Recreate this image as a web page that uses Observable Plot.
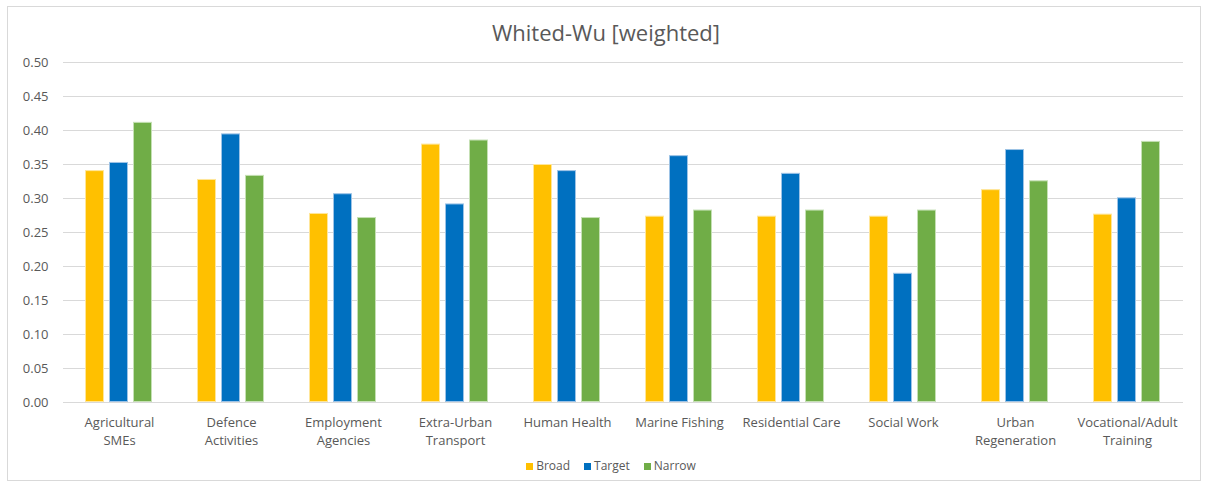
<!DOCTYPE html>
<html>
<head>
<meta charset="utf-8">
<script src="https://cdn.jsdelivr.net/npm/d3@7"></script>
<script src="https://cdn.jsdelivr.net/npm/@observablehq/plot@0.6"></script>
<style>
  html, body { margin: 0; padding: 0; background: #fff; }
  body { width: 1208px; height: 484px; position: relative; font-family: "Open Sans", Lato, sans-serif; color: #595959; overflow: hidden; }
  #frame { position: absolute; left: 7px; top: 6px; width: 1194px; height: 475px; border: 1px solid #d9d9d9; box-sizing: border-box; }
  #title { position: absolute; left: 0; width: 1212px; top: 17px; text-align: center; font-size: 22px; line-height: 30px; color: #595959; }
  #chart { position: absolute; left: 0; top: 50px; }
  #legend { position: absolute; left: 0; width: 1222px; top: 458px; display: flex; justify-content: center; font-size: 12px; line-height: 16px; color: #595959; }
  .item { display: flex; align-items: center; margin: 0 7px; }
  .sw { width: 7px; height: 7px; margin-right: 3px; }
</style>
</head>
<body>
<div id="frame"></div>
<div id="title">Whited-Wu [weighted]</div>
<div id="chart"></div>
<div id="legend"></div>
<script>
const categories = ["Agricultural SMEs", "Defence Activities", "Employment Agencies", "Extra-Urban Transport", "Human Health", "Marine Fishing", "Residential Care", "Social Work", "Urban Regeneration", "Vocational/Adult Training"];
const categoryLabels = ["Agricultural\nSMEs", "Defence\nActivities", "Employment\nAgencies", "Extra-Urban\nTransport", "Human Health", "Marine Fishing", "Residential Care", "Social Work", "Urban\nRegeneration", "Vocational/Adult\nTraining"];
const seriesNames = ["Broad", "Target", "Narrow"];
const broad  = [0.341, 0.328, 0.278, 0.380, 0.350, 0.274, 0.274, 0.274, 0.313, 0.277];
const target = [0.353, 0.395, 0.307, 0.292, 0.341, 0.363, 0.337, 0.190, 0.372, 0.301];
const narrow = [0.412, 0.334, 0.272, 0.386, 0.272, 0.283, 0.283, 0.283, 0.326, 0.384];
const yTicks = [0, 0.05, 0.10, 0.15, 0.20, 0.25, 0.30, 0.35, 0.40, 0.45, 0.50];
const colors = ["#FFC000", "#0070C0", "#70AD47"];
const strokes = ["#ffe699", "#9dc3e6", "#c5e0b4"];

const seriesValues = [broad, target, narrow];
const rows = [];
categories.forEach((c, i) => {
  seriesNames.forEach((s, j) => rows.push({category: c, series: s, value: seriesValues[j][i]}));
});
const labelOf = new Map(categories.map((c, i) => [c, categoryLabels[i]]));

const chart = Plot.plot({
  width: 1208,
  height: 400,
  marginLeft: 59,
  marginRight: 22,
  marginTop: 12,
  marginBottom: 48,
  style: {fontFamily: "'Open Sans', Lato, sans-serif", color: "#595959", background: "transparent"},
  fx: {domain: categories, padding: 0, label: null},
  x: {domain: seriesNames, paddingInner: 0.2, paddingOuter: 0.89, axis: null},
  y: {domain: [0, 0.5], label: null},
  color: {domain: seriesNames, range: colors},
  marks: [
    Plot.ruleY(yTicks, {stroke: "#d9d9d9", strokeWidth: 1}),
    Plot.barY(rows, {fx: "category", x: "series", y: "value", fill: "series", stroke: d => strokes[seriesNames.indexOf(d.series)], strokeWidth: 1, inset: 0.5}),
    Plot.axisY({ticks: yTicks, tickSize: 0, tickPadding: 15, tickFormat: d3.format(".2f"), fontSize: 13, label: null}),
    Plot.axisFx({anchor: "bottom", tickSize: 0, tickPadding: 12, tickFormat: d => labelOf.get(d), fontSize: 13, lineHeight: 1.38, label: null})
  ]
});
document.getElementById("chart").appendChild(chart);

const legend = document.getElementById("legend");
seriesNames.forEach((s, j) => {
  const item = document.createElement("div");
  item.className = "item";
  const sw = document.createElement("span");
  sw.className = "sw";
  sw.style.background = colors[j];
  const t = document.createElement("span");
  t.textContent = s;
  item.appendChild(sw);
  item.appendChild(t);
  legend.appendChild(item);
});
</script>
</body>
</html>
